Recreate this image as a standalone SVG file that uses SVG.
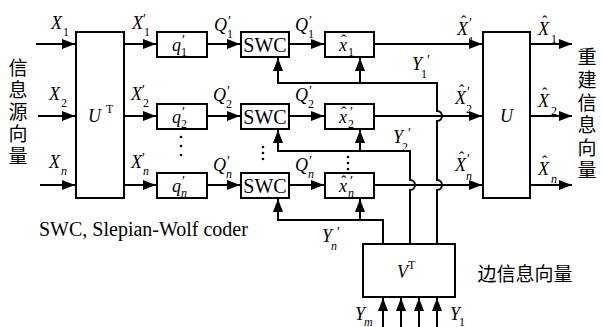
<svg xmlns="http://www.w3.org/2000/svg" width="602" height="327" viewBox="0 0 602 327">
<defs>
<marker id="ah" markerUnits="userSpaceOnUse" markerWidth="13" markerHeight="10" refX="13" refY="5" orient="auto">
<path d="M0,0 L13,5 L0,10 z" fill="#000"/>
</marker>
<style>
.bx{fill:#fff;stroke:#000;stroke-width:2}
.ln{fill:none;stroke:#000;stroke-width:2}
.ar{marker-end:url(#ah)}
text{font-family:'Liberation Serif','Times New Roman','DejaVu Serif',serif}
.v{font-style:italic;font-size:18px}
.s{font-size:12px}
.si{font-style:italic;font-size:12px}
.p{font-size:14px}
.h{font-size:16px}
.t{font-size:20px}
.cap{font-size:20px}
.c{font-family:'Noto Sans CJK SC',sans-serif;font-size:19px;text-anchor:middle}
.up{font-size:12px}
</style>
</defs>

<g id="connectors">
<path class="ln ar" d="M36,44 H75"/>
<path class="ln ar" d="M38,116 H75"/>
<path class="ln ar" d="M40,185 H75"/>
<path class="ln ar" d="M124,44 H156"/>
<path class="ln ar" d="M124,116 H156"/>
<path class="ln ar" d="M124,185 H156"/>
<path class="ln ar" d="M207,44 H240"/>
<path class="ln ar" d="M207,116 H240"/>
<path class="ln ar" d="M207,185 H240"/>
<path class="ln ar" d="M289,44 H324"/>
<path class="ln ar" d="M289,116 H324"/>
<path class="ln ar" d="M289,185 H324"/>
<path class="ln ar" d="M374,44 H482"/>
<path class="ln ar" d="M374,116 H482"/>
<path class="ln ar" d="M374,185 H482"/>
<path class="ln ar" d="M530,44 H572"/>
<path class="ln ar" d="M530,116 H572"/>
<path class="ln ar" d="M530,185 H572"/>
<path class="ln ar" d="M437,244 V190 A5,5 0 0 0 437,180 V121 A5,5 0 0 0 437,111 V83 H278 V58"/>
<path class="ln ar" d="M360,83 V58"/>
<path class="ln ar" d="M410,244 V190 A5,5 0 0 0 410,180 V151 H278 V130"/>
<path class="ln ar" d="M360,151 V130"/>
<path class="ln ar" d="M383,244 V220 H278 V199"/>
<path class="ln ar" d="M360,220 V199"/>
<path class="ln ar" d="M383,327 V298"/>
<path class="ln ar" d="M401,327 V298"/>
<path class="ln ar" d="M419,327 V298"/>
<path class="ln ar" d="M437,327 V298"/>
</g>

<g id="UT"><rect class="bx" x="76" y="32" width="48" height="166"/><text class="v" x="88" y="122">U</text><text class="up" x="106" y="113">T</text></g>
<g id="q1"><rect class="bx" x="157" y="32" width="50" height="25"/><text class="v" x="172" y="51">q</text><text class="p" x="182" y="45">′</text><text class="s" x="181" y="56">1</text></g>
<g id="q2"><rect class="bx" x="157" y="104" width="50" height="25"/><text class="v" x="172" y="123">q</text><text class="p" x="182" y="117">′</text><text class="s" x="181" y="128">2</text></g>
<g id="qn"><rect class="bx" x="157" y="173" width="50" height="25"/><text class="v" x="172" y="192">q</text><text class="p" x="182" y="186">′</text><text class="si" x="181" y="197">n</text></g>
<g id="swc1"><rect class="bx" x="241" y="32" width="48" height="25"/><text class="t" x="265" y="52" text-anchor="middle">SWC</text></g>
<g id="swc2"><rect class="bx" x="241" y="104" width="48" height="25"/><text class="t" x="265" y="124" text-anchor="middle">SWC</text></g>
<g id="swcn"><rect class="bx" x="241" y="173" width="48" height="25"/><text class="t" x="265" y="193" text-anchor="middle">SWC</text></g>
<g id="xh1"><rect class="bx" x="325" y="32" width="49" height="25"/><text class="v" x="339" y="51">x</text><text class="h" x="341" y="46">ˆ</text><text class="s" x="348" y="56">1</text></g>
<g id="xh2"><rect class="bx" x="325" y="104" width="49" height="25"/><text class="v" x="339" y="123">x</text><text class="h" x="341" y="118">ˆ</text><text class="p" x="350" y="117">′</text><text class="s" x="348" y="128">2</text></g>
<g id="xhn"><rect class="bx" x="325" y="173" width="49" height="25"/><text class="v" x="339" y="192">x</text><text class="h" x="341" y="187">ˆ</text><text class="p" x="350" y="186">′</text><text class="si" x="348" y="197">n</text></g>
<g id="U"><rect class="bx" x="483" y="32" width="47" height="166"/><text class="v" x="500" y="122">U</text></g>
<g id="VT"><rect class="bx" x="363" y="244" width="92" height="53"/><text class="v" x="397" y="278">V</text><text class="up" x="408" y="269">T</text></g>

<g id="dots">
<circle cx="181" cy="137" r="1.3"/><circle cx="181" cy="146" r="1.3"/><circle cx="181" cy="155" r="1.3"/>
<circle cx="263" cy="147" r="1.3"/><circle cx="263" cy="153" r="1.3"/><circle cx="263" cy="159" r="1.3"/>
<circle cx="348" cy="157" r="1.3"/><circle cx="348" cy="163" r="1.3"/><circle cx="348" cy="169" r="1.3"/>
</g>

<g id="labels">
<text class="v" x="51" y="29">X</text><text class="s" x="63" y="36">1</text>
<text class="v" x="49" y="100">X</text><text class="s" x="61" y="107">2</text>
<text class="v" x="49" y="168">X</text><text class="si" x="61" y="175">n</text>

<text class="v" x="132" y="29">X</text><text class="p" x="143" y="24">′</text><text class="s" x="144" y="36">1</text>
<text class="v" x="131" y="100">X</text><text class="p" x="142" y="95">′</text><text class="s" x="143" y="107">2</text>
<text class="v" x="131" y="168">X</text><text class="p" x="142" y="163">′</text><text class="si" x="143" y="175">n</text>

<text class="v" x="214" y="31">Q</text><text class="p" x="228" y="26">′</text><text class="s" x="227" y="38">1</text>
<text class="v" x="213" y="101">Q</text><text class="p" x="227" y="96">′</text><text class="s" x="226" y="108">2</text>
<text class="v" x="213" y="171">Q</text><text class="p" x="227" y="166">′</text><text class="si" x="226" y="178">n</text>

<text class="v" x="295" y="31">Q</text><text class="p" x="309" y="26">′</text><text class="s" x="308" y="38">1</text>
<text class="v" x="295" y="101">Q</text><text class="p" x="309" y="96">′</text><text class="s" x="308" y="108">2</text>
<text class="v" x="295" y="171">Q</text><text class="p" x="309" y="166">′</text><text class="si" x="308" y="178">n</text>

<text class="v" x="457" y="35">X</text><text class="h" x="461" y="27">ˆ</text><text class="p" x="469" y="28">′</text><text class="s" x="468" y="45">1</text>
<text class="v" x="455" y="104">X</text><text class="h" x="459" y="96">ˆ</text><text class="p" x="467" y="97">′</text><text class="s" x="466" y="113">2</text>
<text class="v" x="455" y="171">X</text><text class="h" x="459" y="163">ˆ</text><text class="p" x="467" y="164">′</text><text class="si" x="466" y="180">n</text>

<text class="v" x="538" y="35">X</text><text class="h" x="542" y="27">ˆ</text><text class="s" x="551" y="43">1</text>
<text class="v" x="538" y="107">X</text><text class="h" x="542" y="99">ˆ</text><text class="s" x="551" y="115">2</text>
<text class="v" x="538" y="175">X</text><text class="h" x="542" y="167">ˆ</text><text class="si" x="551" y="183">n</text>

<text class="v" x="412" y="70">Y</text><text class="p" x="427" y="65">′</text><text class="s" x="421" y="78">1</text>
<text class="v" x="393" y="143">Y</text><text class="p" x="408" y="138">′</text><text class="s" x="402" y="151">2</text>
<text class="v" x="322" y="242">Y</text><text class="p" x="337" y="237">′</text><text class="si" x="331" y="250">n</text>
<text class="v" x="355" y="320">Y</text><text class="si" x="364" y="326">m</text>
<text class="v" x="450" y="320">Y</text><text class="s" x="459" y="326">1</text>

<text class="cap" x="39" y="236">SWC, Slepian-Wolf coder</text>

<text class="c" x="18" y="75">信</text>
<text class="c" x="18" y="97">息</text>
<text class="c" x="18" y="119">源</text>
<text class="c" x="18" y="141">向</text>
<text class="c" x="18" y="163">量</text>

<text class="c" x="587" y="64">重</text>
<text class="c" x="587" y="87">建</text>
<text class="c" x="587" y="110">信</text>
<text class="c" x="587" y="132">息</text>
<text class="c" x="587" y="155">向</text>
<text class="c" x="587" y="177">量</text>

<text class="c" x="525" y="281">边信息向量</text>
</g>
</svg>
